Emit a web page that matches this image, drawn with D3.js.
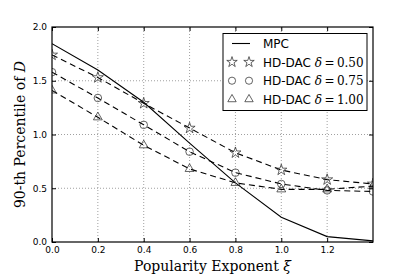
<!DOCTYPE html>
<html><head><meta charset="utf-8">
<script src="https://cdn.jsdelivr.net/npm/d3@7"></script>
<style>body{margin:0;background:#fff}svg{display:block}</style>
</head><body>
<script>
const xs = [0.0, 0.2, 0.4, 0.6, 0.8, 1.0, 1.2, 1.4];
const mpc = [1.845, 1.60, 1.30, 0.92, 0.55, 0.23, 0.05, 0.01];
const hd050 = [1.74, 1.53, 1.29, 1.06, 0.83, 0.67, 0.58, 0.54];
const hd075 = [1.58, 1.34, 1.09, 0.84, 0.645, 0.54, 0.48, 0.47];
const hd100 = [1.41, 1.16, 0.90, 0.68, 0.55, 0.49, 0.49, 0.52];
const xTicks = [0.0, 0.2, 0.4, 0.6, 0.8, 1.0, 1.2];
const yTicks = [0.0, 0.5, 1.0, 1.5, 2.0];
const seriesNames = ["MPC", "HD-DAC", "HD-DAC", "HD-DAC"];
const deltas = [null, "0.50", "0.75", "1.00"];

const W = 415, H = 277;
const m = {l: 52, r: 42, t: 27, b: 35};
const svg = d3.select("body").append("svg").attr("width", W).attr("height", H);
const x = d3.scaleLinear().domain([0, 1.4]).range([m.l, W - m.r]);
const y = d3.scaleLinear().domain([0, 2.0]).range([H - m.b, m.t]);
const g = svg.append("g");

// grid
g.selectAll(".gx").data(xTicks.slice(1)).join("line")
  .attr("x1", d => x(d)).attr("x2", d => x(d)).attr("y1", y(0)).attr("y2", y(2))
  .attr("stroke", "#888").attr("stroke-width", 0.8).attr("stroke-dasharray", "1,2");
g.selectAll(".gy").data(yTicks.slice(1, -1)).join("line")
  .attr("y1", d => y(d)).attr("y2", d => y(d)).attr("x1", x(0)).attr("x2", x(1.4))
  .attr("stroke", "#888").attr("stroke-width", 0.8).attr("stroke-dasharray", "1,2");

// axes
const ax = d3.axisBottom(x).tickValues(xTicks).tickFormat(d3.format(".1f")).tickSizeInner(-4).tickSizeOuter(0).tickPadding(5);
const ay = d3.axisLeft(y).tickValues(yTicks).tickFormat(d3.format(".1f")).tickSizeInner(-4).tickSizeOuter(0).tickPadding(5);
svg.append("g").attr("transform", `translate(0,${y(0)})`).call(ax);
svg.append("g").attr("transform", `translate(${x(0)},0)`).call(ay);
svg.append("g").attr("transform", `translate(0,${y(2)})`).call(d3.axisTop(x).tickValues(xTicks).tickSizeInner(-4).tickSizeOuter(0).tickFormat(""));
svg.append("g").attr("transform", `translate(${x(1.4)},0)`).call(d3.axisRight(y).tickValues(yTicks).tickSizeInner(-4).tickSizeOuter(0).tickFormat(""));
svg.selectAll(".domain").remove();
svg.selectAll(".tick text").attr("font-family", "DejaVu Sans").attr("font-size", 9).attr("fill", "#000");
svg.selectAll(".tick line").attr("stroke", "#000");

const line = d3.line().x((d, i) => x(xs[i])).y(d => y(d));
svg.append("clipPath").attr("id", "c").append("rect")
  .attr("x", x(0)).attr("y", y(2)).attr("width", x(1.4) - x(0)).attr("height", y(0) - y(2));
const plot = svg.append("g").attr("clip-path", "url(#c)");

const sets = [mpc, hd050, hd075, hd100];
const symbols = [null, d3.symbolStar, d3.symbolCircle, d3.symbolTriangle];
const sizes = [0, 38, 45, 34];
sets.forEach((s, k) => {
  plot.append("path").datum(s).attr("d", line).attr("fill", "none").attr("stroke", "#000")
    .attr("stroke-width", 1.1).attr("stroke-dasharray", k === 0 ? null : "6,4");
  if (symbols[k]) {
    plot.selectAll(null).data(s).join("path")
      .attr("transform", (d, i) => `translate(${x(xs[i])},${y(d)})`)
      .attr("d", d3.symbol(symbols[k], sizes[k])).attr("fill", "none").attr("stroke", "#222").attr("stroke-width", 0.7);
  }
});

// frame
svg.append("rect").attr("x", x(0)).attr("y", y(2)).attr("width", x(1.4) - x(0)).attr("height", y(0) - y(2))
  .attr("fill", "none").attr("stroke", "#000").attr("stroke-width", 1.2);

// legend
const lg = svg.append("g");
lg.append("rect").attr("x", 223).attr("y", 33.5).attr("width", 144).attr("height", 77)
  .attr("fill", "#fff").attr("stroke", "#000").attr("stroke-width", 1);
sets.forEach((s, k) => {
  const yy = 43.5 + k * 18.6;
  if (k === 0) {
    lg.append("line").attr("x1", 232).attr("x2", 250).attr("y1", yy).attr("y2", yy).attr("stroke", "#000").attr("stroke-width", 1.1);
  } else {
    [232, 249].forEach(xx => lg.append("path").attr("transform", `translate(${xx},${yy})`)
      .attr("d", d3.symbol(symbols[k], sizes[k] * 0.9)).attr("fill", "none").attr("stroke", "#222").attr("stroke-width", 0.7));
  }
  const t = lg.append("text").attr("x", 263).attr("y", yy + 4.5).attr("font-family", "DejaVu Sans").attr("font-size", 12);
  t.append("tspan").text(seriesNames[k]);
  if (deltas[k]) {
    t.append("tspan").attr("font-family", "DejaVu Serif").attr("font-style", "italic").text(" δ");
    t.append("tspan").attr("font-family", "DejaVu Serif").text("\u2009=\u2009" + deltas[k]);
  }
});

// axis labels
svg.append("text").attr("x", x(0.7)).attr("y", 271).attr("text-anchor", "middle")
  .attr("font-family", "DejaVu Serif").attr("font-size", 14)
  .html('Popularity Exponent <tspan font-style="italic">ξ</tspan>');
svg.append("text").attr("transform", `translate(25,${y(1)}) rotate(-90)`).attr("text-anchor", "middle")
  .attr("font-family", "DejaVu Serif").attr("font-size", 14)
  .html('90-th Percentile of <tspan font-style="italic">D</tspan>');
</script>
</body></html>
